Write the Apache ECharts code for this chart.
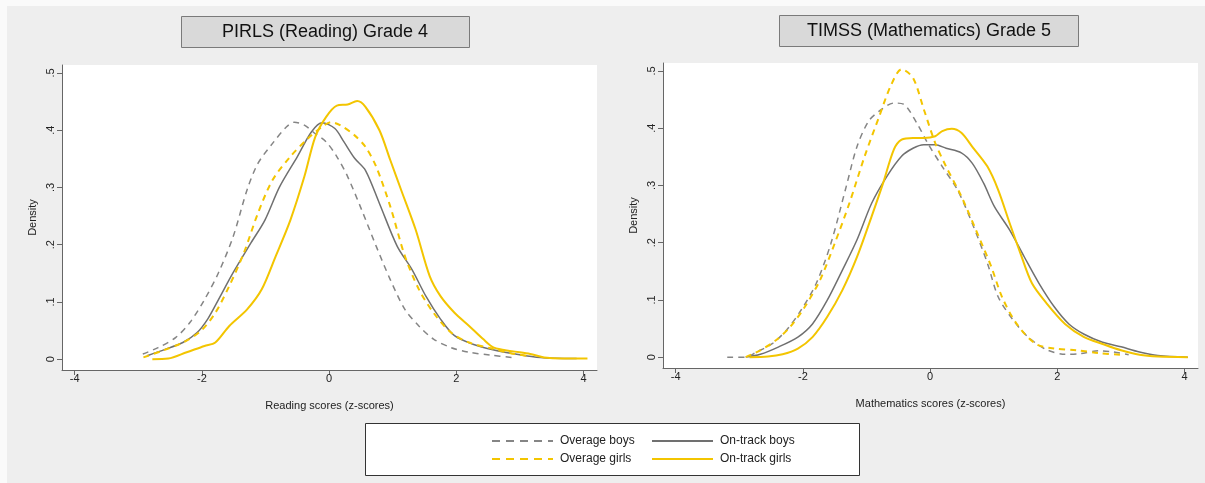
<!DOCTYPE html>
<html>
<head>
<meta charset="utf-8">
<script src="https://cdn.jsdelivr.net/npm/echarts@6/dist/echarts.min.js"></script>
<style>
  html, body { margin: 0; padding: 0; background: #fafafa; }
  #chart { width: 1205px; height: 483px; }
</style>
</head>
<body>
<div id="chart"></div>
<script>
// tick values shared by both panels
var xTicks = [-4, -2, 0, 2, 4];
var yTicks = [0, 0.1, 0.2, 0.3, 0.4, 0.5];

// PIRLS (Reading) Grade 4 : [z-score, density]
var readOverBoys = [[-2.93,0.009],[-2.69,0.020],[-2.41,0.038],[-2.19,0.064],[-1.96,0.104],[-1.74,0.151],[-1.51,0.214],[-1.29,0.296],[-1.12,0.342],[-0.89,0.377],[-0.67,0.406],[-0.55,0.414],[-0.39,0.409],[-0.22,0.394],[-0.05,0.380],[0.12,0.354],[0.29,0.319],[0.51,0.261],[0.74,0.197],[0.96,0.139],[1.19,0.087],[1.41,0.058],[1.64,0.035],[1.92,0.020],[2.20,0.012],[2.54,0.007],[2.87,0.003]];
var readTrackBoys = [[-2.86,0.006],[-2.58,0.017],[-2.30,0.029],[-2.08,0.046],[-1.91,0.070],[-1.74,0.104],[-1.51,0.151],[-1.23,0.203],[-1.01,0.243],[-0.78,0.301],[-0.50,0.354],[-0.28,0.397],[-0.11,0.413],[0.09,0.403],[0.23,0.380],[0.40,0.351],[0.57,0.330],[0.79,0.272],[1.07,0.197],[1.30,0.157],[1.52,0.110],[1.75,0.070],[1.97,0.041],[2.26,0.026],[2.59,0.016],[2.93,0.009],[3.32,0.003],[3.89,0.001]];
var readOverGirls = [[-2.92,0.003],[-2.64,0.014],[-2.30,0.029],[-2.02,0.049],[-1.79,0.081],[-1.57,0.128],[-1.34,0.186],[-1.12,0.255],[-0.89,0.313],[-0.61,0.354],[-0.33,0.386],[-0.11,0.406],[0.03,0.414],[0.17,0.409],[0.40,0.391],[0.57,0.371],[0.74,0.336],[0.96,0.267],[1.19,0.180],[1.41,0.122],[1.64,0.081],[1.92,0.046],[2.20,0.029],[2.54,0.019],[2.87,0.010],[3.16,0.005]];
var readTrackGirls = [[-2.78,0.000],[-2.53,0.001],[-2.24,0.012],[-1.96,0.023],[-1.79,0.029],[-1.57,0.058],[-1.29,0.087],[-1.06,0.122],[-0.84,0.180],[-0.61,0.243],[-0.39,0.319],[-0.22,0.388],[-0.05,0.423],[0.12,0.443],[0.29,0.445],[0.44,0.451],[0.57,0.441],[0.79,0.400],[0.96,0.348],[1.13,0.296],[1.36,0.226],[1.58,0.145],[1.75,0.110],[1.97,0.081],[2.20,0.058],[2.42,0.035],[2.59,0.020],[2.87,0.014],[3.16,0.009],[3.38,0.003],[3.66,0.001],[4.06,0.001]];

// TIMSS (Mathematics) Grade 5 : [z-score, density]
var mathOverBoys = [[-3.19,0.000],[-2.90,0.000],[-2.73,0.009],[-2.49,0.023],[-2.26,0.047],[-2.03,0.082],[-1.79,0.129],[-1.56,0.199],[-1.32,0.298],[-1.15,0.368],[-0.97,0.412],[-0.80,0.430],[-0.57,0.444],[-0.42,0.442],[-0.21,0.409],[-0.04,0.374],[0.19,0.333],[0.43,0.292],[0.66,0.234],[0.90,0.164],[1.07,0.105],[1.31,0.064],[1.54,0.035],[1.83,0.013],[2.12,0.005],[2.36,0.006],[2.65,0.011],[2.88,0.009],[3.12,0.004]];
var mathTrackBoys = [[-2.90,0.000],[-2.67,0.005],[-2.38,0.018],[-2.08,0.035],[-1.85,0.058],[-1.62,0.099],[-1.38,0.152],[-1.15,0.205],[-0.92,0.269],[-0.68,0.316],[-0.45,0.351],[-0.27,0.365],[-0.10,0.371],[0.08,0.371],[0.25,0.365],[0.49,0.357],[0.66,0.339],[0.84,0.304],[1.01,0.263],[1.25,0.222],[1.48,0.175],[1.71,0.129],[1.95,0.088],[2.18,0.058],[2.42,0.040],[2.71,0.026],[3.00,0.018],[3.29,0.009],[3.58,0.003],[4.05,0.000]];
var mathOverGirls = [[-2.90,0.000],[-2.67,0.012],[-2.43,0.029],[-2.20,0.053],[-1.97,0.088],[-1.73,0.135],[-1.50,0.199],[-1.27,0.269],[-1.03,0.351],[-0.80,0.421],[-0.62,0.474],[-0.45,0.503],[-0.27,0.488],[-0.10,0.433],[0.08,0.374],[0.25,0.333],[0.49,0.281],[0.72,0.222],[0.96,0.158],[1.13,0.105],[1.36,0.058],[1.66,0.023],[1.95,0.015],[2.30,0.012],[2.65,0.007],[3.00,0.004]];
var mathTrackGirls = [[-2.84,0.000],[-2.55,0.001],[-2.32,0.005],[-2.08,0.015],[-1.85,0.035],[-1.62,0.070],[-1.38,0.117],[-1.15,0.175],[-0.92,0.246],[-0.74,0.304],[-0.57,0.363],[-0.45,0.380],[-0.27,0.383],[-0.10,0.383],[0.08,0.386],[0.19,0.395],[0.34,0.399],[0.49,0.392],[0.66,0.368],[0.90,0.333],[1.07,0.292],[1.25,0.234],[1.42,0.181],[1.60,0.129],[1.83,0.094],[2.12,0.058],[2.42,0.035],[2.71,0.023],[3.00,0.012],[3.29,0.004],[3.58,0.001],[4.05,0.000]];

var GRAY = '#707070', GRAY_D = '#858585', YELLOW = '#f3c500';
var FONT = '"Liberation Sans", Arial, sans-serif';

var chart = echarts.init(document.getElementById('chart'));

function xAx(idx, name) {
  return {
    type: 'value', gridIndex: idx, min: -4.2, max: 4.21,
    name: name, nameLocation: 'middle', nameGap: 30,
    nameTextStyle: { fontFamily: FONT, fontSize: 11, color: '#222' },
    axisLine: { onZero: false, lineStyle: { color: '#666', width: 1 } },
    axisTick: { length: 5, lineStyle: { color: '#666' }, customValues: xTicks },
    axisLabel: { fontFamily: FONT, fontSize: 11, color: '#222', margin: 3, customValues: xTicks },
    splitLine: { show: false }
  };
}
function yAx(idx) {
  return {
    type: 'value', gridIndex: idx, min: -0.019, max: 0.514,
    name: 'Density', nameLocation: 'middle', nameGap: 24, nameRotate: 90,
    nameTextStyle: { fontFamily: FONT, fontSize: 11, color: '#222' },
    axisLine: { show: true, onZero: false, lineStyle: { color: '#666', width: 1 } },
    axisTick: { show: true, length: 5, lineStyle: { color: '#666' }, customValues: yTicks },
    axisLabel: {
      fontFamily: FONT, fontSize: 11, color: '#222', rotate: 90, margin: 6,
      customValues: yTicks,
      formatter: function (v) { return v === 0 ? '0' : String(Math.round(v * 10) / 10).replace('0.', '.'); }
    },
    splitLine: { show: false }
  };
}
function line(name, data, idx, color, width, dashed) {
  return {
    name: name, type: 'line', xAxisIndex: idx, yAxisIndex: idx,
    data: data, smooth: 0.3, symbol: 'none',
    lineStyle: { color: color, width: width, type: dashed ? [6, 5] : 'solid' },
    itemStyle: { color: color },
    emphasis: { disabled: true }
  };
}
function leg(name, left, top) {
  return {
    data: [name], left: left, top: top, padding: 0, itemWidth: 61, itemHeight: 14,
    itemStyle: { opacity: 0 },
    lineStyle: { type: name.indexOf('Overage') === 0 ? [8, 6] : 'solid' },
    textStyle: { fontFamily: FONT, fontSize: 12, color: '#222', padding: [0, 0, 0, 2] },
    selectedMode: false
  };
}

option = {
  backgroundColor: '#fafafa',
  animation: false,
  graphic: [
    { type: 'rect', z: -10, shape: { x: 7, y: 6, width: 1198, height: 477 }, style: { fill: '#eeeeee' } },
    { type: 'rect', shape: { x: 181.5, y: 16.5, width: 288, height: 31 }, style: { fill: '#d9d9d9', stroke: '#7a7a7a', lineWidth: 1 } },
    { type: 'text', style: { x: 325, y: 32, text: 'PIRLS (Reading) Grade 4', fontFamily: FONT, fontSize: 18, fill: '#111', align: 'center', verticalAlign: 'middle' } },
    { type: 'rect', shape: { x: 779.5, y: 15.5, width: 299, height: 31 }, style: { fill: '#d9d9d9', stroke: '#7a7a7a', lineWidth: 1 } },
    { type: 'text', style: { x: 929, y: 31, text: 'TIMSS (Mathematics) Grade 5', fontFamily: FONT, fontSize: 18, fill: '#111', align: 'center', verticalAlign: 'middle' } },
    { type: 'rect', shape: { x: 365.5, y: 423.5, width: 494, height: 52 }, style: { fill: '#ffffff', stroke: '#333', lineWidth: 1 } }
  ],
  grid: [
    { left: 62, top: 65, width: 535, height: 305, show: true, backgroundColor: '#fff', borderWidth: 0 },
    { left: 663, top: 63, width: 535, height: 305, show: true, backgroundColor: '#fff', borderWidth: 0 }
  ],
  legend: [
    leg('Overage boys', 491, 435),
    leg('On-track boys', 651, 435),
    leg('Overage girls', 491, 453),
    leg('On-track girls', 651, 453)
  ],
  xAxis: [xAx(0, 'Reading scores (z-scores)'), xAx(1, 'Mathematics scores (z-scores)')],
  yAxis: [yAx(0), yAx(1)],
  series: [
    line('Overage boys', readOverBoys, 0, GRAY_D, 1.5, true),
    line('On-track boys', readTrackBoys, 0, GRAY, 1.5, false),
    line('Overage girls', readOverGirls, 0, YELLOW, 2, true),
    line('On-track girls', readTrackGirls, 0, YELLOW, 2, false),
    line('Overage boys', mathOverBoys, 1, GRAY_D, 1.5, true),
    line('On-track boys', mathTrackBoys, 1, GRAY, 1.5, false),
    line('Overage girls', mathOverGirls, 1, YELLOW, 2, true),
    line('On-track girls', mathTrackGirls, 1, YELLOW, 2, false)
  ]
};
chart.setOption(option);
</script>
</body>
</html>
